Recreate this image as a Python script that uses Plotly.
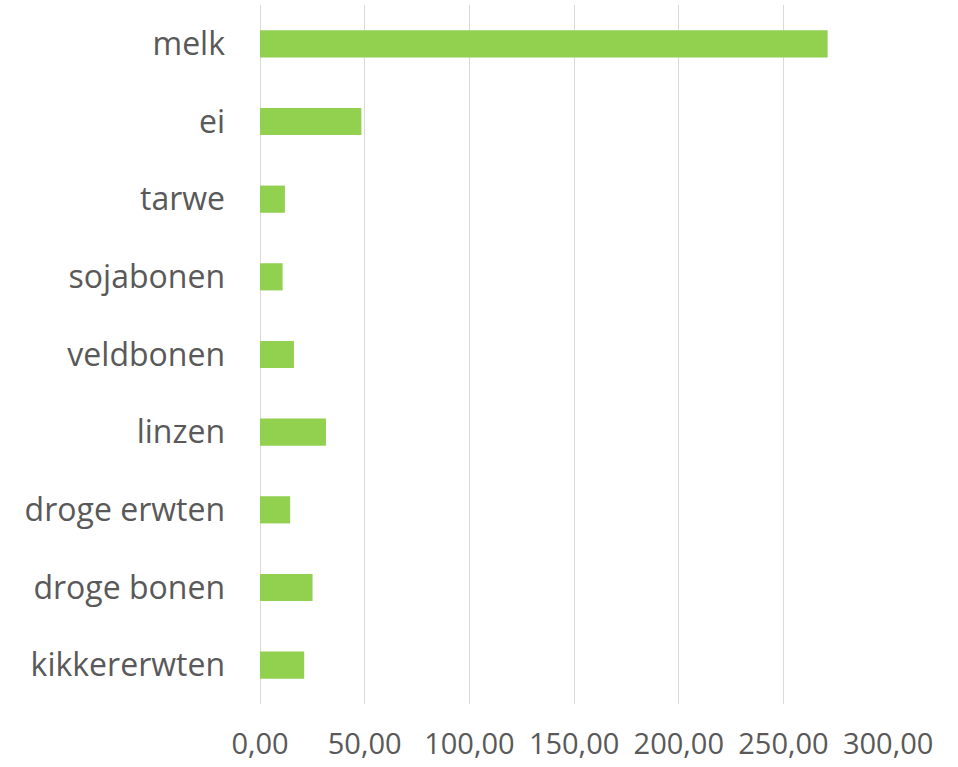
import plotly.graph_objects as go

# Products (top to bottom as displayed) and their values
products = ["melk", "ei", "tarwe", "sojabonen", "veldbonen", "linzen",
            "droge erwten", "droge bonen", "kikkererwten"]
values = [271.1, 48.4, 11.9, 10.8, 16.2, 31.5, 14.4, 25.1, 21.1]

tick_vals = [0, 50, 100, 150, 200, 250, 300]
tick_text = ["0,00", "50,00", "100,00", "150,00", "200,00", "250,00", "300,00"]

# Plotly draws categories bottom-up, so reverse the order
fig = go.Figure(go.Bar(
    x=values[::-1],
    y=products[::-1],
    orientation="h",
    marker=dict(color="#92D050", line=dict(width=0)),
))

fig.update_layout(
    width=958, height=767,
    margin=dict(l=260, r=69, t=5, b=60),
    paper_bgcolor="white", plot_bgcolor="white",
    bargap=0.65,
    showlegend=False,
    font=dict(family="Open Sans", color="#595959", size=24),
)

fig.update_xaxes(
    range=[0, 300.4],
    tickvals=tick_vals, ticktext=tick_text,
    showgrid=True, gridcolor="#d9d9d9", gridwidth=1.3,
    zeroline=True, zerolinecolor="#d9d9d9", zerolinewidth=1.3,
    showline=False, ticks="",
    ticklabelstandoff=20,
    tickfont=dict(size=29, color="#595959"),
)
fig.update_yaxes(
    showgrid=False, zeroline=False, showline=False, ticks="",
    ticklabelstandoff=34,
    tickfont=dict(size=32, color="#595959"),
)

fig.write_html("out.html")
